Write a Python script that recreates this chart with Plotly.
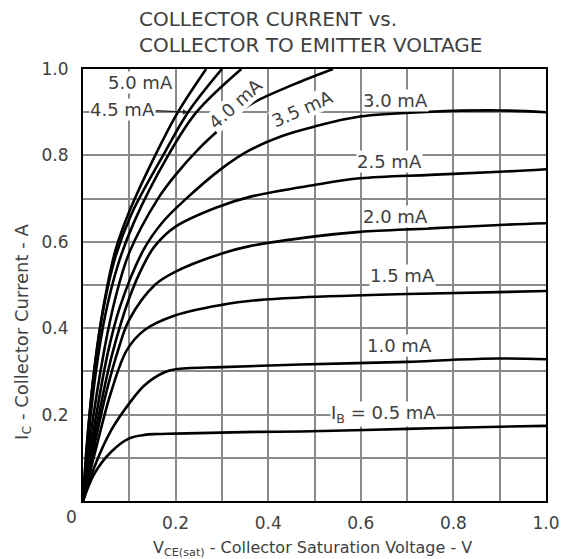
import plotly.graph_objects as go

# ---- data ----
vce_05 = [0, 0.025, 0.061, 0.1, 0.133, 0.16, 0.2, 0.378, 0.47, 0.7, 0.9, 1.0]
ic_05 = [0, 0.064, 0.114, 0.145, 0.153, 0.155, 0.156, 0.160, 0.161, 0.167, 0.172, 0.174]

vce_10 = [0, 0.025, 0.061, 0.1, 0.133, 0.176, 0.2, 0.3, 0.47, 0.7, 0.8, 0.9, 1.0]
ic_10 = [0, 0.08, 0.164, 0.226, 0.268, 0.298, 0.305, 0.31, 0.316, 0.322, 0.327, 0.330, 0.328]

vce_15 = [0, 0.03, 0.06, 0.095, 0.133, 0.2, 0.3, 0.378, 0.469, 0.7, 1.0]
ic_15 = [0, 0.13, 0.25, 0.35, 0.396, 0.43, 0.454, 0.465, 0.471, 0.479, 0.486]

vce_20 = [0, 0.025, 0.05, 0.076, 0.1, 0.155, 0.2, 0.3, 0.36, 0.497, 0.598, 0.75, 0.9, 1.0]
ic_20 = [0, 0.13, 0.25, 0.35, 0.42, 0.5, 0.531, 0.573, 0.59, 0.612, 0.623, 0.631, 0.639, 0.643]

vce_25 = [0, 0.02, 0.04, 0.063, 0.1, 0.13, 0.155, 0.2, 0.29, 0.36, 0.497, 0.598, 0.75, 0.9, 1.0]
ic_25 = [0, 0.12, 0.23, 0.34, 0.47, 0.545, 0.59, 0.635, 0.68, 0.704, 0.731, 0.747, 0.755, 0.762, 0.768]

vce_30 = [0, 0.018, 0.053, 0.08, 0.13, 0.17, 0.22, 0.3, 0.36, 0.43, 0.497, 0.598, 0.75, 0.9, 1.0]
ic_30 = [0, 0.13, 0.34, 0.45, 0.58, 0.643, 0.697, 0.77, 0.812, 0.845, 0.866, 0.89, 0.901, 0.904, 0.900]

vce_35 = [0, 0.015, 0.046, 0.07, 0.1, 0.162, 0.2, 0.25, 0.3, 0.36, 0.45, 0.54]
ic_35 = [0, 0.14, 0.35, 0.47, 0.575, 0.70, 0.755, 0.815, 0.865, 0.917, 0.962, 1.0]

vce_40 = [0, 0.012, 0.028, 0.048, 0.075, 0.11, 0.184, 0.245, 0.342]
ic_40 = [0, 0.15, 0.3, 0.43, 0.545, 0.645, 0.8, 0.9, 1.0]

vce_45 = [0, 0.01, 0.025, 0.045, 0.07, 0.105, 0.173, 0.227, 0.30]
ic_45 = [0, 0.15, 0.31, 0.45, 0.565, 0.665, 0.8, 0.9, 1.0]

vce_50 = [0, 0.01, 0.025, 0.045, 0.07, 0.1, 0.156, 0.205, 0.266]
ic_50 = [0, 0.15, 0.31, 0.455, 0.58, 0.67, 0.8, 0.9, 1.0]

x_ticks = [0.2, 0.4, 0.6, 0.8, 1.0]
x_tick_text = ["0.2", "0.4", "0.6", "0.8", "1.0"]
y_ticks = [0.2, 0.4, 0.6, 0.8, 1.0]
y_tick_text = ["0.2", "0.4", "0.6", "0.8", "1.0"]

curves = [
    (vce_05, ic_05), (vce_10, ic_10), (vce_15, ic_15), (vce_20, ic_20),
    (vce_25, ic_25), (vce_30, ic_30), (vce_35, ic_35), (vce_40, ic_40),
    (vce_45, ic_45), (vce_50, ic_50),
]

FONT = "DejaVu Sans"
TXT = "#404040"

fig = go.Figure()
for xs, ys in curves:
    fig.add_trace(go.Scatter(
        x=xs, y=ys, mode="lines",
        line=dict(color="black", width=2.6, shape="spline", smoothing=1.0),
        hoverinfo="skip", showlegend=False,
    ))

fig.update_layout(
    width=552, height=551,
    margin=dict(l=75, r=14, t=61, b=58, autoexpand=False),
    paper_bgcolor="white", plot_bgcolor="white",
    font=dict(family=FONT, size=16, color=TXT),
    showlegend=False,
)

grid = dict(showgrid=True, gridcolor="#8a8a8a", gridwidth=1.6,
            zeroline=False, showline=True, linecolor="black", linewidth=2.2,
            mirror=True, ticks="", automargin=False)

fig.update_xaxes(range=[0, 1.0], tickvals=x_ticks, ticktext=x_tick_text,
                 minor=dict(dtick=0.1, tick0=0, showgrid=True, gridcolor="#8a8a8a", gridwidth=1.6),
                 ticklabelstandoff=5,
                 tickfont=dict(family=FONT, size=17, color=TXT), **grid)
fig.update_yaxes(range=[0, 1.0], tickvals=y_ticks, ticktext=y_tick_text,
                 minor=dict(dtick=0.1, tick0=0, showgrid=True, gridcolor="#8a8a8a", gridwidth=1.6),
                 ticklabelstandoff=9,
                 tickfont=dict(family=FONT, size=17, color=TXT), **grid)

ann = []
LS = 18
def lab(text, x, y, angle=0, size=LS):
    ann.append(dict(text=text, x=x, y=y, xref="x", yref="y", showarrow=False,
                    textangle=angle, bgcolor="white", borderpad=0,
                    font=dict(family=FONT, size=size, color=TXT)))

lab("5.0 mA", 0.125, 0.968)
lab("4.0 mA", 0.33, 0.92, angle=-42)
lab("3.5 mA", 0.475, 0.908, angle=-24)
lab("3.0 mA", 0.674, 0.928)
lab("2.5 mA", 0.661, 0.785)
lab("2.0 mA", 0.676, 0.658)
lab("1.5 mA", 0.69, 0.521)
lab("1.0 mA", 0.683, 0.359)
lab("I<sub>B</sub> = 0.5 mA", 0.65, 0.201)

ann.append(dict(text="4.5 mA", x=0.227, y=0.9, ax=0.086, ay=0.907,
                xref="x", yref="y", axref="x", ayref="y", showarrow=True,
                arrowhead=2, arrowsize=0.8, arrowwidth=1.3, arrowcolor="#222",
                bgcolor="white", borderpad=0,
                font=dict(family=FONT, size=LS, color=TXT)))

# origin label
ann.append(dict(text="0", x=-0.024, y=-0.037, xref="paper", yref="paper", showarrow=False,
                xanchor="center", yanchor="middle",
                font=dict(family=FONT, size=17, color=TXT)))

# title
ann.append(dict(text="COLLECTOR CURRENT vs.<br>COLLECTOR TO EMITTER VOLTAGE",
                x=0.1166, y=1.148, xref="paper", yref="paper",
                xanchor="left", yanchor="top", align="left", showarrow=False,
                font=dict(family=FONT, size=20, color=TXT)))

# axis titles
ann.append(dict(text="V<sub>CE(sat)</sub> - Collector Saturation Voltage - V",
                x=0.495, y=-0.109, xref="paper", yref="paper",
                xanchor="center", yanchor="middle", showarrow=False,
                font=dict(family=FONT, size=16, color=TXT)))
ann.append(dict(text="I<sub>C</sub> - Collector Current - A",
                x=-0.13, y=0.391, xref="paper", yref="paper", textangle=-90,
                xanchor="center", yanchor="middle", showarrow=False,
                font=dict(family=FONT, size=18, color=TXT)))

fig.update_layout(annotations=ann)
fig.write_html("out.html")
